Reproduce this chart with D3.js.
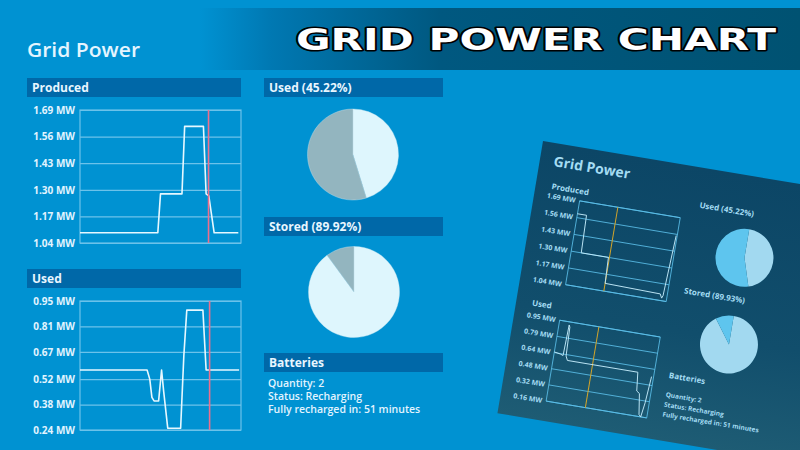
<!DOCTYPE html>
<html><head><meta charset="utf-8">
<script src="https://cdn.jsdelivr.net/npm/d3@7/dist/d3.min.js"></script>
<style>
html,body{margin:0;padding:0;background:#0092d2;}
svg{display:block;font-family:"Open Sans","DejaVu Sans",sans-serif;}
</style></head>
<body>
<svg id="c" width="800" height="450"></svg>
<script>
// ---------- DATA ----------
const producedTicks = [1.04, 1.17, 1.30, 1.43, 1.56, 1.69];
const usedTicks = [0.24, 0.38, 0.52, 0.67, 0.81, 0.95];
const producedTime = [0, 29, 30, 38, 39, 46, 47, 48, 50, 59];
const producedValue = [1.09, 1.09, 1.28, 1.28, 1.61, 1.61, 1.28, 1.27, 1.09, 1.09];
const usedTime = [0, 25, 26, 26.8, 27.6, 29.3, 30.4, 31.2, 32.7, 37.5, 38.7, 39.8, 45.8, 47, 59.3];
const usedValue = [0.57, 0.57, 0.52, 0.42, 0.40, 0.40, 0.57, 0.45, 0.25, 0.25, 0.65, 0.90, 0.90, 0.57, 0.57];
const markerTime = [47.9, 48.3]; // red "now" line for produced, used
const pieLabels = ["Used (45.22%)", "Stored (89.92%)"];
const pieValues = [[45.22, 54.78], [89.92, 10.08]];
const batteryLines = ["Quantity: 2", "Status: Recharging", "Fully recharged in: 51 minutes"];

// inset (screenshot) data
const insetProducedTicks = ["1.69 MW", "1.56 MW", "1.43 MW", "1.30 MW", "1.17 MW", "1.04 MW"];
const insetUsedTicks = ["0.95 MW", "0.79 MW", "0.64 MW", "0.48 MW", "0.32 MW", "0.16 MW"];
const insetProducedTime = [0, 9, 10, 37, 38, 93, 95, 96, 99];
const insetProducedValue = [1.59, 1.59, 1.30, 1.30, 1.10, 1.09, 1.06, 1.08, 1.55];
const insetUsedTime = [0, 6, 9, 10, 11, 12, 14, 84, 86, 89, 92, 94, 96, 98];
const insetUsedValue = [0.64, 0.63, 0.62, 0.92, 0.90, 0.62, 0.58, 0.58, 0.40, 0.38, 0.18, 0.16, 0.30, 0.56];
const insetMarker = [38, 39];
const insetPieLabels = ["Used (45.22%)", "Stored (89.93%)"];
const insetPieValues = [[45.22, 54.78], [89.93, 10.07]];

// ---------- DRAW ----------
const svg = d3.select("#c");
const defs = svg.append("defs");
const bg = defs.append("linearGradient").attr("id","banner").attr("x1","0").attr("x2","1").attr("y1","0").attr("y2","0");
bg.append("stop").attr("offset","0").attr("stop-color","#0092d2");
bg.append("stop").attr("offset","0.12").attr("stop-color","#0078b2");
bg.append("stop").attr("offset","0.40").attr("stop-color","#005880");
bg.append("stop").attr("offset","1").attr("stop-color","#005272");
const ig = defs.append("linearGradient").attr("id","inset").attr("x1","0").attr("x2","0").attr("y1","0").attr("y2","1");
ig.append("stop").attr("offset","0").attr("stop-color","#0c4666");
ig.append("stop").attr("offset","0.6").attr("stop-color","#114e6c");
ig.append("stop").attr("offset","1").attr("stop-color","#1e5c74");

svg.append("rect").attr("width",800).attr("height",450).attr("fill","#0092d2");

// banner
svg.append("rect").attr("x",200).attr("y",8).attr("width",600).attr("height",62).attr("fill","url(#banner)");
svg.append("text").attr("x",296).attr("y",50).attr("textLength",480).attr("lengthAdjust","spacingAndGlyphs")
  .style("font-family","'DejaVu Sans',sans-serif").style("font-weight","bold").style("font-size","30px")
  .attr("fill","#ffffff").attr("stroke","#000").attr("stroke-width",3).attr("paint-order","stroke")
  .attr("stroke-linejoin","round").text("GRID POWER CHART");

// main title
svg.append("text").attr("x",27).attr("y",57).attr("textLength",113).attr("lengthAdjust","spacingAndGlyphs")
  .attr("fill","#e4f5ff").style("font-size","20px").style("font-weight","600").text("Grid Power");

function headerBar(x, y, w, label) {
  svg.append("rect").attr("x",x).attr("y",y).attr("width",w).attr("height",19).attr("fill","#0068a8");
  svg.append("text").attr("x",x+5).attr("y",y+14).attr("fill","#e8f6ff")
    .style("font-size","12px").style("font-weight","bold").text(label);
}

function lineChart(opts) {
  const x = d3.scaleLinear().domain([0,60]).range([80,241]);
  const y = d3.scaleLinear().domain([opts.ticks[0], opts.ticks[opts.ticks.length-1]]).range([opts.bottom, opts.top]);
  const g = svg.append("g");
  const ax = g.append("g").attr("transform","translate(80,0)")
    .call(d3.axisLeft(y).tickValues(opts.ticks).tickSize(-161).tickPadding(5).tickFormat(d => d.toFixed(2) + " MW"));
  ax.select(".domain").remove();
  ax.selectAll("line").attr("stroke","#6cc2ea").attr("stroke-width",1.2);
  ax.selectAll("text").attr("fill","#e2f4ff").style("font-size","10px").style("font-weight","bold")
    .style("font-family","'Open Sans',sans-serif");
  g.append("rect").attr("x",80).attr("y",opts.top).attr("width",161).attr("height",opts.bottom-opts.top)
    .attr("fill","none").attr("stroke","#6cc2ea").attr("stroke-width",1.2);
  const pts = opts.time.map((t,i) => [t, opts.values[i]]);
  g.append("path").datum(pts).attr("fill","none").attr("stroke","#e6f8ff").attr("stroke-width",1.6)
    .attr("stroke-linejoin","round")
    .attr("d", d3.line().x(d => x(d[0])).y(d => y(d[1])));
  g.append("line").attr("x1",x(opts.marker)).attr("x2",x(opts.marker)).attr("y1",opts.top).attr("y2",opts.bottom)
    .attr("stroke","#ee6f8c").attr("stroke-width",1.6);
}

headerBar(27, 78, 214, "Produced");
lineChart({ticks: producedTicks, top: 110, bottom: 243, time: producedTime, values: producedValue, marker: markerTime[0]});
headerBar(27, 269, 214, "Used");
lineChart({ticks: usedTicks, top: 301, bottom: 430, time: usedTime, values: usedValue, marker: markerTime[1]});

// pies
const pie = d3.pie().sort(null);
const arc = d3.arc().innerRadius(0).outerRadius(45.5);
const pieCenters = [[353, 154.5], [354, 292]];
const barY = [78, 217];
pieLabels.forEach((lab, i) => {
  headerBar(264, barY[i], 179, lab);
  const g = svg.append("g").attr("transform", `translate(${pieCenters[i][0]},${pieCenters[i][1]})`);
  g.selectAll("path").data(pie(pieValues[i])).join("path").attr("d", arc)
    .attr("fill", (d,j) => j === 0 ? "#def6fd" : "#93b5bf")
    .attr("stroke","#c8e6f0").attr("stroke-width",0.4);
});
headerBar(264, 353, 179, "Batteries");
svg.append("g").selectAll("text").data(batteryLines).join("text")
  .attr("x",268).attr("y",(d,i) => 387 + i*13).attr("fill","#e2f4ff")
  .style("font-size","10.5px").style("font-weight","600").text(d => d);

// ---------- INSET SCREENSHOT ----------
const ins = svg.append("g").attr("transform","translate(543,141) rotate(9.5)");
ins.append("rect").attr("x",0).attr("y",0).attr("width",320).attr("height",276).attr("fill","url(#inset)");
const ic = "#a4dcf3";
ins.append("text").attr("x",14).attr("y",23).attr("fill",ic).style("font-size","14px").style("font-weight","bold").text("Grid Power");

function insetChart(label, labelY, ticks, top, bottom, time, values, marker) {
  const x = d3.scaleLinear().domain([0,100]).range([46,148]);
  const y = d3.scaleLinear().domain([0,1]).range([bottom, top]);
  const fracs = ticks.map((d,i) => 1 - i/(ticks.length-1));
  ins.append("text").attr("x",16).attr("y",labelY).attr("fill",ic).style("font-size","8px").style("font-weight","bold").text(label);
  const g = ins.append("g");
  g.selectAll("line.grid").data(fracs).join("line").attr("class","grid")
    .attr("x1",46).attr("x2",148).attr("y1",d=>y(d)).attr("y2",d=>y(d)).attr("stroke","#5cc0ea").attr("stroke-width",0.8);
  g.append("rect").attr("x",46).attr("y",top).attr("width",102).attr("height",bottom-top)
    .attr("fill","none").attr("stroke","#5cc0ea").attr("stroke-width",0.8);
  g.selectAll("text").data(ticks).join("text").attr("x",42).attr("y",(d,i)=>y(fracs[i])+2.5)
    .attr("text-anchor","end").attr("fill",ic).style("font-size","7px").style("font-weight","bold").text(d=>d);
  const lo = +ticks[ticks.length-1].split(" ")[0], hi = +ticks[0].split(" ")[0];
  const vy = d3.scaleLinear().domain([lo,hi]).range([bottom, top]);
  g.append("line").attr("x1",x(marker)).attr("x2",x(marker)).attr("y1",top).attr("y2",bottom)
    .attr("stroke","#d3a52a").attr("stroke-width",1);
  g.append("path").datum(time.map((t,i)=>[t, values[i]])).attr("fill","none").attr("stroke","#bfe8f8").attr("stroke-width",0.9)
    .attr("d", d3.line().x(d=>x(d[0])).y(d=>vy(d[1])));
}
insetChart("Produced", 46, insetProducedTicks, 53, 138, insetProducedTime, insetProducedValue, insetMarker[0]);
insetChart("Used", 164, insetUsedTicks, 174, 256, insetUsedTime, insetUsedValue, insetMarker[1]);

const iarc = d3.arc().innerRadius(0).outerRadius(29);
const ipc = [[218, 82], [217, 170]];
const ipl = [[165, 40], [164, 127]];
insetPieLabels.forEach((lab, i) => {
  ins.append("text").attr("x",ipl[i][0]).attr("y",ipl[i][1]).attr("fill",ic).style("font-size","8px").style("font-weight","bold").text(lab);
  ins.append("g").attr("transform",`translate(${ipc[i][0]},${ipc[i][1]})`)
    .selectAll("path").data(pie(insetPieValues[i])).join("path").attr("d", iarc)
    .attr("fill",(d,j)=> j===0 ? "#a2d9f0" : "#5ec5ee");
});
ins.append("text").attr("x",163).attr("y",213).attr("fill",ic).style("font-size","8px").style("font-weight","bold").text("Batteries");
ins.selectAll("text.bl").data(batteryLines).join("text").attr("class","bl")
  .attr("x",163).attr("y",(d,i)=>232+i*10).attr("fill",ic).style("font-size","6.5px").style("font-weight","bold").text(d=>d);
</script>
</body></html>
